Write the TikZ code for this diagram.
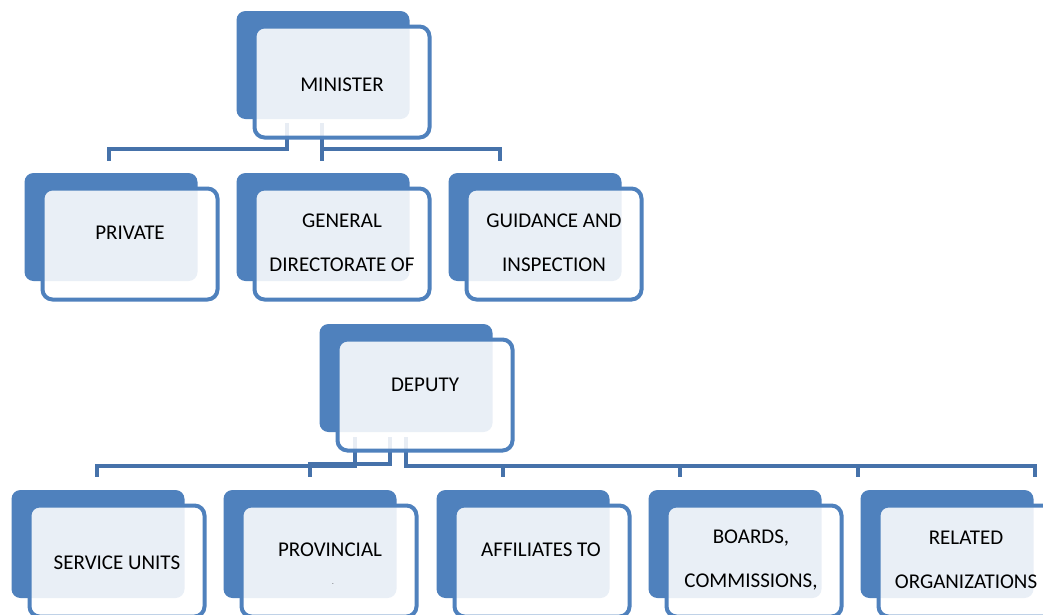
\documentclass[tikz,border=0pt]{standalone}
\usepackage{fontspec}
\setmainfont{Carlito}
\usetikzlibrary{calc}
\definecolor{boxblue}{HTML}{4F81BD}
\definecolor{linkblue}{HTML}{4672AA}
\tikzset{
  backbox/.style={fill=boxblue, rounded corners=9pt, minimum width=173pt,
    minimum height=108pt, inner sep=0pt},
  frontbox/.style={draw=boxblue, line width=4pt, fill=white, fill opacity=0.88,
    rounded corners=10pt, minimum width=175pt, minimum height=111pt, inner sep=0pt},
  txt/.style={font=\fontsize{21}{44}\selectfont, text=black, align=center, inner sep=0pt},
  linkline/.style={draw=linkblue, line width=4.5pt}
}

\begin{document}
\begin{tikzpicture}[x=1pt,y=-1pt]
\clip (0,0) rectangle (1043,614);
\fill[white] (0,0) rectangle (1043,614);
% centres of the front boxes
\coordinate (min) at (342,82);
\coordinate (pri) at (130,244);
\coordinate (gen) at (342,244);
\coordinate (gui) at (554,244);
\coordinate (dep) at (425,395);
\coordinate (ser) at (117,561);
\coordinate (pro) at (329,561);
\coordinate (aff) at (542,561);
\coordinate (boa) at (754,561);
\coordinate (rel) at (966,561);
% back boxes
\foreach \n in {min,pri,gen,gui,dep,ser,pro,aff,boa,rel}
  \node[backbox] (\n-b) at ($(\n)+(-19,-17)$) {};
% minister to first row
\coordinate (min-s1) at (287,123);
\coordinate (min-s2) at (322,123);
\coordinate (pri-in) at (109,161);
\coordinate (gen-in) at (322,161);
\coordinate (gui-in) at (500,161);
\draw[linkline] (min-s1) -- ++(0,26) -| (pri-in);
\draw[linkline] (min-s2) -- (gen-in);
\draw[linkline] (min-s2) -- ++(0,26) -| (gui-in);
% deputy to second row
\coordinate (dep-s1) at (355,437);
\coordinate (dep-s2) at (390,437);
\coordinate (dep-s3) at (406,437);
\coordinate (ser-in) at (97,477);
\coordinate (pro-in) at (310,477);
\coordinate (aff-in) at (503,477);
\coordinate (boa-in) at (680,477);
\coordinate (rel-in) at (858,477);
\coordinate (end-in) at (1035,477);
\draw[linkline] (dep-s1) -- ++(0,29) -| (ser-in);
\draw[linkline] (dep-s2) -- ++(0,27) -| (pro-in);
\foreach \n in {aff,boa,rel,end}
  \draw[linkline] (dep-s3) -- ++(0,29) -| (\n-in);
% front boxes
\foreach \n in {min,pri,gen,gui,dep,ser,pro,aff,boa,rel}
  \node[frontbox] (\n-f) at (\n) {};
% labels
\node[txt] (min-t) at ($(min)+(0,3)$) {MINISTER};
\node[txt] (pri-t) at ($(pri)+(0,-11)$) {PRIVATE};
\node[txt] (gen-t) at ($(gen)+(0,-1)$) {GENERAL\\DIRECTORATE OF};
\node[txt] (gui-t) at ($(gui)+(0,-1)$) {GUIDANCE AND\\INSPECTION};
\node[txt] (dep-t) at ($(dep)+(0,-10)$) {DEPUTY};
\node[txt] (ser-t) at ($(ser)+(0,2)$) {SERVICE UNITS};
\node[txt] (pro-t) at ($(pro)+(1,-11)$) {PROVINCIAL};
\node[txt, font=\fontsize{5}{5}\selectfont] (pro-d) at ($(pro)+(4,24)$) {-};
\node[txt] (aff-t) at ($(aff)+(-1,-11)$) {AFFILIATES TO};
\node[txt] (boa-t) at ($(boa)+(-3,-1)$) {BOARDS,\\COMMISSIONS,};
\node[txt] (rel-t) at ($(rel)+(0,-1)$) {RELATED\\ORGANIZATIONS};
\end{tikzpicture}
\end{document}
